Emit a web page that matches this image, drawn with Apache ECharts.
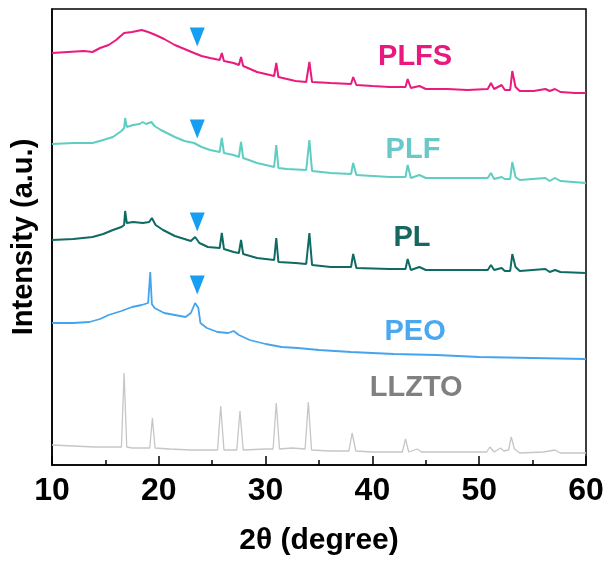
<!DOCTYPE html>
<html>
<head>
<meta charset="utf-8">
<title>XRD patterns</title>
<script src="https://cdn.jsdelivr.net/npm/echarts/dist/echarts.min.js"></script>
<style>
  html, body { margin: 0; padding: 0; background: #fff; }
  #chart { width: 610px; height: 565px; }
</style>
</head>
<body>
<div id="chart"></div>
<script>
// XRD patterns, stacked: [2θ (deg), intensity (a.u., offset included)]
const PLFS = [
  [10.0,412],[11.5,413],[13.0,414],[13.8,413],[14.5,417],[15.3,420],[16.0,425],[16.75,432],
  [17.5,433],[18.4,435],[19.0,433],[19.7,430],[20.5,426],[21.5,420],[22.4,416],[23.3,412],
  [24.0,409],[24.8,407],[25.7,405],[25.9,412],[26.1,404],[27.0,402],[27.5,400],[27.7,408],
  [27.9,399],[29.2,393],[30.0,391],[30.8,389],[31.0,402],[31.2,388],[32.0,386],[32.8,384],
  [33.8,383],[34.1,403],[34.35,383],[36.1,382],[38.0,381],[38.2,388],[38.5,380],[40.0,379],
  [41.6,378],[43.1,378],[43.3,386],[43.6,377],[44.4,379],[45.0,376],[47.0,376],[48.9,375],
  [50.8,376],[51.1,382],[51.4,376],[52.1,380],[52.4,375],[52.9,375],[53.1,394],[53.4,378],
  [53.8,374],[55.1,374],[56.2,376],[56.6,374],[57.1,376],[57.6,373],[59.0,372],[60.0,372]
];
const PLF = [
  [10.0,321],[12.0,322],[13.8,322],[14.8,325],[15.7,328],[16.5,334],[16.75,337],[16.85,347],
  [17.0,338],[17.6,340],[18.2,341],[18.5,343],[18.8,341],[19.3,343],[19.6,339],[20.2,335],
  [21.5,328],[22.4,324],[23.3,322],[24.0,318],[24.8,315],[25.7,313],[25.9,327],[26.1,312],
  [27.0,310],[27.5,308],[27.7,323],[27.9,307],[29.2,302],[30.0,300],[30.8,298],[31.0,320],
  [31.2,297],[32.0,296],[33.8,295],[34.1,325],[34.35,294],[36.1,292],[38.0,291],[38.2,302],
  [38.5,290],[41.6,288],[43.1,288],[43.3,300],[43.6,287],[44.4,290],[45.0,287],[48.9,287],
  [50.8,287],[51.1,292],[51.4,286],[52.1,288],[52.4,286],[52.9,286],[53.1,303],[53.4,288],
  [53.8,285],[56.2,287],[56.6,284],[57.1,287],[57.6,284],[60.0,282]
];
const PL = [
  [10.0,225],[12.0,226],[13.8,228],[14.8,231],[15.7,235],[16.5,238],[16.75,240],[16.85,254],
  [17.0,242],[17.6,243],[18.5,242],[19.1,243],[19.35,247],[19.7,240],[20.4,235],[21.5,229],
  [22.4,226],[23.0,224],[23.4,228],[23.8,222],[24.6,218],[25.7,217],[25.9,232],[26.1,216],
  [27.0,213],[27.5,212],[27.7,225],[27.9,211],[29.2,207],[30.8,205],[31.0,227],[31.2,203],
  [32.8,202],[33.8,201],[34.1,232],[34.35,200],[36.1,198],[38.0,198],[38.2,211],[38.5,197],
  [41.6,196],[43.1,196],[43.3,206],[43.6,195],[44.4,198],[45.0,195],[48.9,195],[50.8,195],
  [51.1,200],[51.4,195],[52.1,197],[52.4,194],[52.9,194],[53.1,211],[53.4,198],[53.8,194],
  [56.2,196],[56.6,193],[57.1,195],[57.6,193],[60.0,192]
];
const PEO = [
  [10.0,142],[12.0,142],[13.5,143],[14.5,146],[15.3,150],[16.5,154],[17.5,158],[18.4,160],
  [19.0,162],[19.2,193],[19.35,161],[19.6,157],[20.5,152],[21.5,150],[22.5,148],[23.0,152],
  [23.4,162],[23.7,157],[23.9,142],[24.5,137],[25.5,133],[26.5,132],[27.0,134],[27.5,130],
  [28.5,125],[30.0,121],[31.5,118],[33.0,117],[35.0,115],[38.0,113],[42.0,111],[46.0,110],
  [50.0,108],[55.0,107],[60.0,106]
];
const LLZTO = [
  [10.0,20],[12.0,19],[14.0,18],[16.0,18],[16.5,18],[16.75,92],[17.0,18],[17.5,17],
  [19.15,17],[19.4,47],[19.65,17],[21.0,16],[23.0,15],[25.5,15],[25.8,59],[26.1,15],
  [27.3,15],[27.6,54],[27.9,15],[30.0,16],[30.7,16],[31.0,62],[31.3,16],[32.5,17],
  [33.7,16],[34.0,63],[34.3,15],[36.0,14],[37.8,14],[38.1,32],[38.45,14],[40.0,13],
  [42.8,13],[43.1,26],[43.4,13],[44.2,16],[44.6,13],[48.0,13],[50.7,13],[51.0,18],
  [51.4,13],[52.0,17],[52.3,14],[52.75,15],[53.0,28],[53.3,16],[53.8,12],[56.0,13],
  [57.1,15],[57.6,12],[60.0,12]
];

// PEO reflection marker (▼) above each polymer pattern
const markerPoints = [[23.6,428],[23.6,336],[23.6,243],[23.6,180]];

// Sample names and where they sit
const sampleNames = ['PLFS','PLF','PL','PEO','LLZTO'];
const nameAnchors = [[44.0,408],[43.8,315],[43.7,227],[44.0,133],[44.1,77]];

const xTicks = { min: 10, max: 60, interval: 10 };

const FONT = '"Liberation Sans", Arial, sans-serif';
const lineColors = { PLFS:'#ea1a7e', PLF:'#5fcdc2', PL:'#0f6a62', PEO:'#45a4ee', LLZTO:'#c6c6c6' };
const nameColors = { PLFS:'#e8187e', PLF:'#6ac9c8', PL:'#17665f', PEO:'#4aa8f0', LLZTO:'#808080' };
const widths = { PLFS:2, PLF:2, PL:2, PEO:1.8, LLZTO:1.3 };

const patterns = { LLZTO, PEO, PL, PLF, PLFS };

const lineSeries = Object.keys(patterns).map(k => ({
  name: k,
  type: 'line',
  data: patterns[k],
  showSymbol: false,
  symbol: 'none',
  lineStyle: { color: lineColors[k], width: widths[k] },
  z: 2
}));

const chart = echarts.init(document.getElementById('chart'), null, { renderer: 'canvas' });
chart.setOption({
  animation: false,
  backgroundColor: '#fff',
  grid: { left: 52, right: 24, top: 9, bottom: 100, show: true, borderColor: '#000', borderWidth: 1.5, backgroundColor: 'transparent' },
  xAxis: {
    type: 'value', min: xTicks.min, max: xTicks.max, interval: xTicks.interval,
    name: '2θ (degree)', nameLocation: 'middle', nameGap: 61,
    nameTextStyle: { fontFamily: FONT, fontWeight: 'bold', fontSize: 30, color: '#000' },
    axisLine: { show: true, lineStyle: { color: '#000', width: 1.5 } },
    axisTick: { show: true, inside: true, length: 9, lineStyle: { color: '#000', width: 1.5 } },
    minorTick: { show: true, splitNumber: 2, length: 5, lineStyle: { color: '#000', width: 1.5 } },
    splitLine: { show: false },
    axisLabel: { fontFamily: FONT, fontWeight: 'bold', fontSize: 32, color: '#000', margin: 10 }
  },
  yAxis: {
    type: 'value', min: 0, max: 456,
    name: 'Intensity (a.u.)', nameLocation: 'middle', nameGap: 14, nameRotate: 90,
    nameTextStyle: { fontFamily: FONT, fontWeight: 'bold', fontSize: 29, color: '#000' },
    axisLine: { show: true, lineStyle: { color: '#000', width: 1.5 } },
    axisTick: { show: false },
    axisLabel: { show: false },
    splitLine: { show: false }
  },
  series: [
    ...lineSeries,
    {
      type: 'scatter',
      data: markerPoints,
      symbol: 'triangle',
      symbolRotate: 180,
      symbolSize: [15, 19],
      itemStyle: { color: '#169ff2', opacity: 1 },
      z: 5
    },
    {
      type: 'scatter',
      symbolSize: 0,
      itemStyle: { opacity: 1 },
      data: sampleNames.map((n, i) => ({
        name: n,
        value: nameAnchors[i],
        label: { color: nameColors[n] }
      })),
      label: {
        show: true, position: 'inside', formatter: '{b}',
        fontFamily: FONT, fontWeight: 'bold', fontSize: 29,
        textBorderWidth: 0, textBorderColor: 'transparent'
      },
      z: 6
    }
  ]
});
</script>
</body>
</html>
